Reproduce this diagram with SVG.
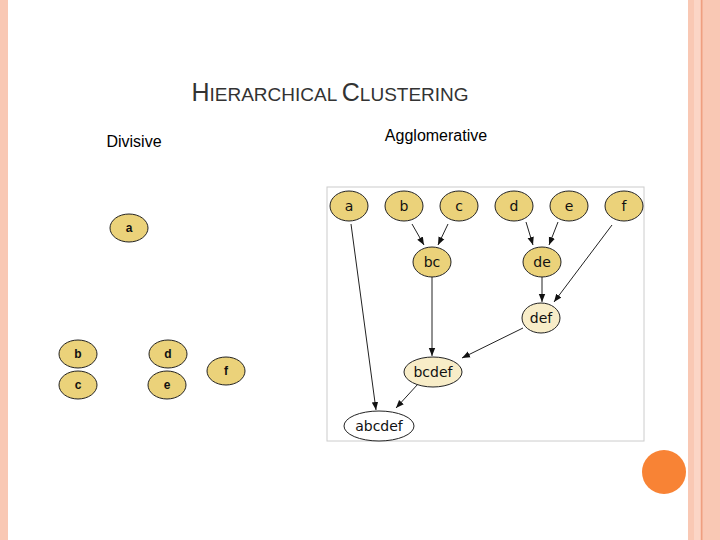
<svg xmlns="http://www.w3.org/2000/svg" width="720" height="540" viewBox="0 0 720 540">
<defs>
<style>
.n{fill:#ebd27a;stroke:#222;stroke-width:1}
.l{fill:#f8edc8;stroke:#222;stroke-width:1}
.w{fill:#fff;stroke:#222;stroke-width:1}
.t{font-family:"DejaVu Sans",sans-serif;font-size:14px;text-anchor:middle;fill:#111}
.tb{font-family:"Liberation Sans",Arial,sans-serif;font-size:12px;font-weight:bold;text-anchor:middle;fill:#111}
.e{stroke:#222;stroke-width:1;fill:none;marker-end:url(#ar)}
</style>
<marker id="ar" viewBox="0 0 10 10" refX="10" refY="5" markerWidth="8" markerHeight="8" orient="auto" markerUnits="userSpaceOnUse"><path d="M0,1 L10,5 L0,9 z" fill="#111"/></marker>
</defs>
<rect width="720" height="540" fill="#fff"/>
<rect x="0" y="0" width="8" height="540" fill="#f9c8b4"/>
<rect x="688" y="0" width="32" height="540" fill="#f9c8b4"/>
<rect x="694" y="0" width="6" height="540" fill="#fbd5c6"/>
<rect x="701" y="0" width="1.5" height="540" fill="#ef9f80"/>
<circle cx="664" cy="472" r="22" fill="#f88335"/>
<text x="330" y="101" font-family="Liberation Sans,Arial,sans-serif" font-size="19" text-anchor="middle" fill="#333"><tspan font-size="25">H</tspan>IERARCHICAL <tspan font-size="25">C</tspan>LUSTERING</text>
<text x="134" y="147" font-family="Liberation Sans,Arial,sans-serif" font-size="16" text-anchor="middle" fill="#000">Divisive</text>
<text x="436" y="141" font-family="Liberation Sans,Arial,sans-serif" font-size="16" text-anchor="middle" fill="#000">Agglomerative</text>
<g id="divisive">
<g id="dv-a"><ellipse class="n" cx="129" cy="228" rx="19" ry="14"/><text class="tb" x="129" y="232">a</text></g>
<g id="dv-b"><ellipse class="n" cx="78" cy="354" rx="19" ry="14"/><text class="tb" x="78" y="358">b</text></g>
<g id="dv-c"><ellipse class="n" cx="78" cy="385" rx="19" ry="14"/><text class="tb" x="78" y="389">c</text></g>
<g id="dv-d"><ellipse class="n" cx="168" cy="354" rx="19" ry="14"/><text class="tb" x="168" y="358">d</text></g>
<g id="dv-e"><ellipse class="n" cx="167" cy="385" rx="19" ry="14"/><text class="tb" x="167" y="389">e</text></g>
<g id="dv-f"><ellipse class="n" cx="226" cy="371" rx="19" ry="14"/><text class="tb" x="226" y="375">f</text></g>
</g>
<rect x="327" y="187" width="317" height="254" fill="none" stroke="#ccc" stroke-width="1"/>
<g id="connectors">
<path class="e" d="M351,224 L376,410"/>
<path class="e" d="M412,224 L424,245"/>
<path class="e" d="M448,224 L438,245"/>
<path class="e" d="M526,222 L533,245"/>
<path class="e" d="M558,222 L549,245"/>
<path class="e" d="M612,225 L554,302"/>
<path class="e" d="M542,277 L542,302"/>
<path class="e" d="M432,277 L432,356"/>
<path class="e" d="M523,328 L462,358"/>
<path class="e" d="M418,384 L396,408"/>
</g>
<g id="a"><ellipse class="n" cx="349" cy="206" rx="19" ry="15"/><text class="t" x="349" y="211">a</text></g>
<g id="b"><ellipse class="n" cx="404" cy="206" rx="19" ry="15"/><text class="t" x="404" y="211">b</text></g>
<g id="c"><ellipse class="n" cx="459" cy="206" rx="19" ry="15"/><text class="t" x="459" y="211">c</text></g>
<g id="d"><ellipse class="n" cx="514" cy="206" rx="19" ry="15"/><text class="t" x="514" y="211">d</text></g>
<g id="e"><ellipse class="n" cx="569" cy="206" rx="19" ry="15"/><text class="t" x="569" y="211">e</text></g>
<g id="f"><ellipse class="n" cx="624" cy="206" rx="19" ry="15"/><text class="t" x="624" y="211">f</text></g>
<g id="bc"><ellipse class="n" cx="432" cy="262" rx="19" ry="15"/><text class="t" x="432" y="267">bc</text></g>
<g id="de"><ellipse class="n" cx="542" cy="262" rx="19" ry="15"/><text class="t" x="542" y="267">de</text></g>
<g id="def"><ellipse class="l" cx="541" cy="318" rx="19" ry="15"/><text class="t" x="541" y="323">def</text></g>
<g id="bcdef"><ellipse class="l" cx="433" cy="372" rx="29" ry="15"/><text class="t" x="433" y="377">bcdef</text></g>
<g id="abcdef"><ellipse class="w" cx="379" cy="426" rx="35" ry="15"/><text class="t" x="379" y="431">abcdef</text></g>
</svg>
